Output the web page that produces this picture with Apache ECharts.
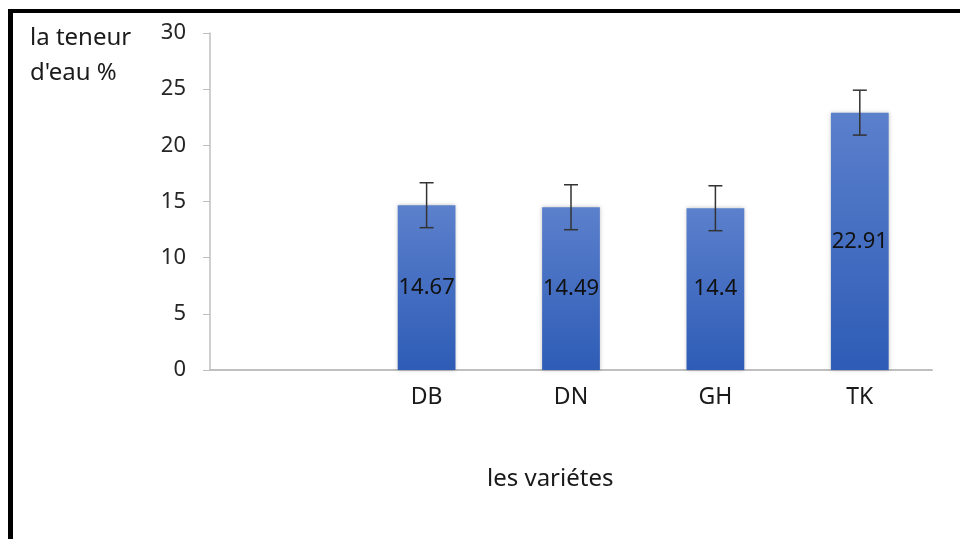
<!DOCTYPE html>
<html>
<head>
<meta charset="utf-8">
<script src="https://cdn.jsdelivr.net/npm/echarts@6/dist/echarts.min.js"></script>
<style>
  html, body { margin: 0; padding: 0; background: #fff; }
  #chart { width: 960px; height: 539px; }
</style>
</head>
<body>
<div id="chart"></div>
<script>
// data
var categories = ['', 'DB', 'DN', 'GH', 'TK'];
var teneur = [null, 14.67, 14.49, 14.4, 22.91];
var erreur = [null, 2, 2, 2, 2];
var yTicks = [0, 5, 10, 15, 20, 25, 30];

var font = 'Noto Sans';

var dom = document.getElementById("chart");
var myChart = echarts.init(dom);

// error bar pieces: [index, low, high]
var errData = [];
for (var i = 0; i < categories.length; i++) {
  if (teneur[i] == null) continue;
  errData.push([i, teneur[i] - erreur[i], teneur[i] + erreur[i]]);
}

var option = {
  animation: false,
  grid: { left: 210, right: 28, top: 33, bottom: 169, containLabel: false },
  xAxis: {
    type: 'category',
    data: categories,
    axisLine: { lineStyle: { color: '#bfbfbf', width: 2 } },
    axisTick: { show: false },
    axisLabel: { color: '#1a1a1a', fontSize: 23, fontFamily: font, margin: 16 }
  },
  yAxis: {
    type: 'value',
    min: yTicks[0],
    max: yTicks[yTicks.length - 1],
    interval: 5,
    splitLine: { show: false },
    axisLine: { show: true, lineStyle: { color: '#bfbfbf', width: 1.5 } },
    axisTick: { show: true, length: 7, lineStyle: { color: '#bfbfbf' } },
    axisLabel: { color: '#262626', fontSize: 22, fontFamily: font, margin: 24 }
  },
  series: [
    {
      type: 'bar',
      data: teneur,
      barWidth: '40%',
      itemStyle: {
        color: new echarts.graphic.LinearGradient(0, 0, 0, 1, [
          { offset: 0, color: '#5b80cc' },
          { offset: 1, color: '#2e5cb6' }
        ]),
        shadowColor: 'rgba(0,0,0,0.25)',
        shadowBlur: 4
      },
      label: {
        show: true,
        position: 'inside',
        color: '#111',
        fontSize: 22,
        fontFamily: font
      }
    },
    {
      type: 'custom',
      data: errData,
      z: 10,
      renderItem: function (params, api) {
        var x = api.value(0);
        var lo = api.coord([x, api.value(1)]);
        var hi = api.coord([x, api.value(2)]);
        var half = 7;
        var st = { stroke: '#333', lineWidth: 1.5 };
        return {
          type: 'group',
          children: [
            { type: 'line', shape: { x1: hi[0], y1: hi[1], x2: lo[0], y2: lo[1] }, style: st },
            { type: 'line', shape: { x1: hi[0] - half, y1: hi[1], x2: hi[0] + half, y2: hi[1] }, style: st },
            { type: 'line', shape: { x1: lo[0] - half, y1: lo[1], x2: lo[0] + half, y2: lo[1] }, style: st }
          ]
        };
      }
    }
  ],
  graphic: [
    // frame (top and left)
    { type: 'rect', shape: { x: 8, y: 9, width: 960, height: 4 }, style: { fill: '#000' } },
    { type: 'rect', shape: { x: 8, y: 9, width: 5, height: 540 }, style: { fill: '#000' } },
    {
      type: 'text', left: 30, top: 21,
      style: { text: "la teneur\nd'eau %", fill: '#1a1a1a', fontSize: 24, fontFamily: font, lineHeight: 35 }
    },
    {
      type: 'text', left: 487, top: 467,
      style: { text: 'les variétes', fill: '#1a1a1a', fontSize: 24, fontFamily: font }
    }
  ]
};

if (option && typeof option === "object") {
  myChart.setOption(option, true);
}
</script>
</body>
</html>
